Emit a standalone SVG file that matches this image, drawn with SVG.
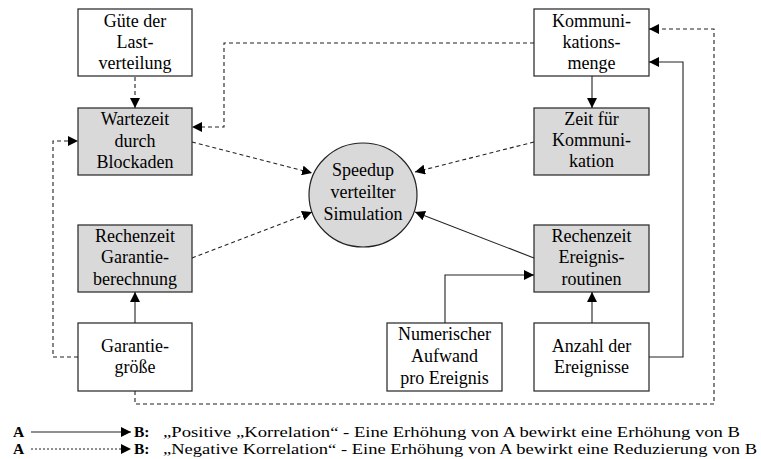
<svg xmlns="http://www.w3.org/2000/svg" width="761" height="459" viewBox="0 0 761 459" font-family="'Liberation Serif', 'Times New Roman', Tinos, 'DejaVu Serif', serif">
<style>
text{font-family:'Liberation Serif','Times New Roman',Tinos,serif;font-size:18px;fill:#000;text-anchor:middle}
.box{fill:#fff;stroke:#333;stroke-width:1.3}
.g{fill:#d9d9d9}
.c{fill:none;stroke:#222;stroke-width:1.1}
.d{stroke-dasharray:4,3}
.lg{text-anchor:start;font-size:15.5px}
.b{font-weight:bold}
</style>
<defs>
<marker id="ah" viewBox="0 0 10 10" refX="10" refY="5" markerWidth="10" markerHeight="10" markerUnits="userSpaceOnUse" orient="auto">
<path d="M0,0 L10,5 L0,10 z" fill="#000"/>
</marker>
</defs>
<rect width="761" height="459" fill="#fff"/>

<g id="guete"><rect class="box" x="78" y="9" width="114" height="67"/><text x="135" y="27">Güte der</text><text x="135" y="48">Last-</text><text x="135" y="69">verteilung</text></g>
<g id="wartezeit"><rect class="box g" x="78" y="108" width="114" height="67"/><text x="135" y="125">Wartezeit</text><text x="135" y="147">durch</text><text x="135" y="168">Blockaden</text></g>
<g id="rechenzeitG"><rect class="box g" x="78" y="225" width="114" height="67"/><text x="135" y="242">Rechenzeit</text><text x="135" y="263">Garantie-</text><text x="135" y="285">berechnung</text></g>
<g id="garantie"><rect class="box" x="78" y="323" width="114" height="68"/><text x="135" y="352">Garantie-</text><text x="135" y="373">größe</text></g>
<g id="komm"><rect class="box" x="534" y="9" width="115" height="67"/><text x="591.5" y="27">Kommuni-</text><text x="591.5" y="48">kations-</text><text x="591.5" y="69">menge</text></g>
<g id="zeit"><rect class="box g" x="534" y="108" width="115" height="67"/><text x="591.5" y="125">Zeit für</text><text x="591.5" y="146">Kommuni-</text><text x="591.5" y="167">kation</text></g>
<g id="rechenzeitE"><rect class="box g" x="534" y="225" width="115" height="67"/><text x="591.5" y="242">Rechenzeit</text><text x="591.5" y="263">Ereignis-</text><text x="591.5" y="285">routinen</text></g>
<g id="numerisch"><rect class="box" x="387" y="323" width="115" height="68"/><text x="444.5" y="340">Numerischer</text><text x="444.5" y="362">Aufwand</text><text x="444.5" y="384">pro Ereignis</text></g>
<g id="anzahl"><rect class="box" x="534" y="323" width="115" height="68"/><text x="591.5" y="352">Anzahl der</text><text x="591.5" y="373">Ereignisse</text></g>
<g id="speedup"><ellipse cx="363" cy="195" rx="54" ry="52" fill="#d9d9d9" stroke="#222" stroke-width="1.2"/><text x="363" y="176">Speedup</text><text x="363" y="198">verteilter</text><text x="363" y="220">Simulation</text></g>

<g id="connectors">
<path class="c d" d="M135,77 V108" marker-end="url(#ah)"/>
<path class="c d" d="M534,43 H224 V127 H192" marker-end="url(#ah)"/>
<path class="c d" d="M192,142 L312,173" marker-end="url(#ah)"/>
<path class="c d" d="M78,357 H53 V141 H78" marker-end="url(#ah)"/>
<path class="c" d="M135,323 V292" marker-end="url(#ah)"/>
<path class="c d" d="M192,258 L312,212" marker-end="url(#ah)"/>
<path class="c" d="M592,76 V108" marker-end="url(#ah)"/>
<path class="c d" d="M534,142 L415,172" marker-end="url(#ah)"/>
<path class="c" d="M534,258 L415,212" marker-end="url(#ah)"/>
<path class="c" d="M445,323 V275 H534" marker-end="url(#ah)"/>
<path class="c" d="M592,323 V292" marker-end="url(#ah)"/>
<path class="c" d="M649,357 H683 V62 H649" marker-end="url(#ah)"/>
<path class="c d" d="M135,391 V404 H714 V29 H649" marker-end="url(#ah)"/>
</g>

<g id="legend">
<text class="lg b" x="13" y="437">A</text>
<path class="c" d="M31,432 H131" marker-end="url(#ah)"/>
<text class="lg b" x="134" y="437">B:</text>
<text class="lg" x="163" y="437" textLength="577" lengthAdjust="spacingAndGlyphs">„Positive „Korrelation“ - Eine Erhöhung von A bewirkt eine Erhöhung von B</text>
<text class="lg b" x="13" y="454">A</text>
<path class="c" stroke-dasharray="2,2" d="M31,449 H131" marker-end="url(#ah)"/>
<text class="lg b" x="134" y="454">B:</text>
<text class="lg" x="163" y="454" textLength="594" lengthAdjust="spacingAndGlyphs">„Negative Korrelation“ - Eine Erhöhung von A bewirkt eine Reduzierung von B</text>
</g>
</svg>
